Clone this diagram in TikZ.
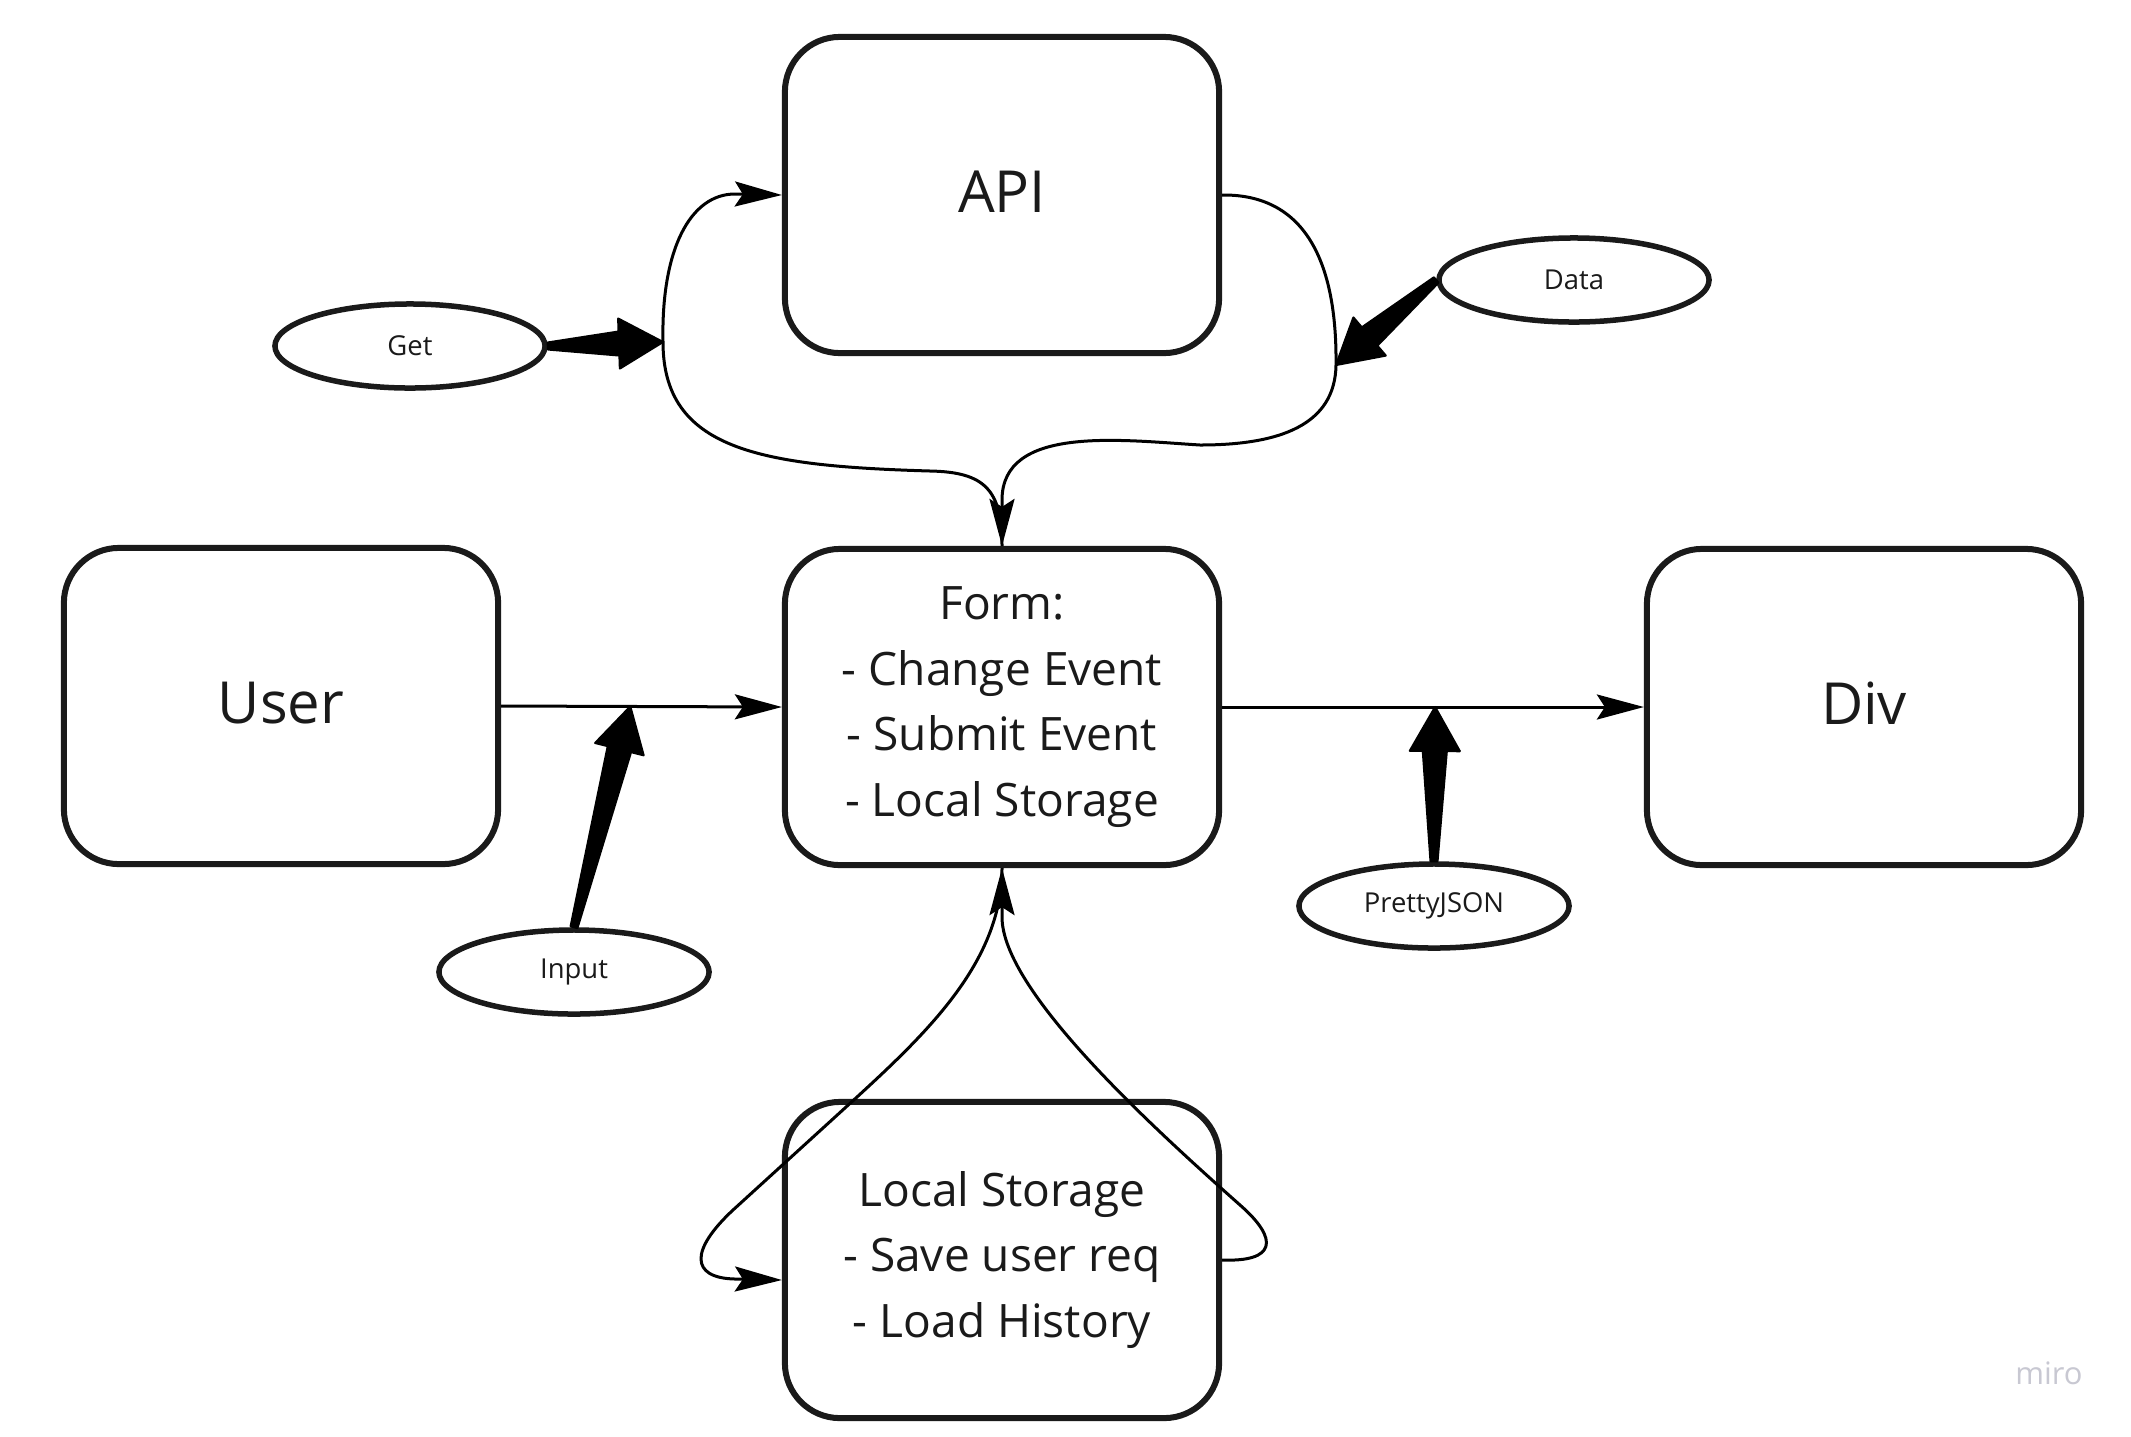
\documentclass[tikz,border=0pt]{standalone}
\usepackage{fontspec}
\setmainfont{Open Sans}
\usetikzlibrary{arrows.meta,shapes.geometric,calc}
\definecolor{ink}{HTML}{1A1A1A}
\definecolor{mirogray}{HTML}{C8C8D2}
\newcommand\lblbig{\fontsize{16.5pt}{20pt}\selectfont}
\newcommand\lblform{\fontsize{13.1pt}{18.64pt}\selectfont}
\newcommand\lblsmall{\fontsize{7.8pt}{9pt}\selectfont}
\newcommand\thickarr[2]{%
  \coordinate (ta) at (#1);
  \coordinate (tp) at (#2);
  \coordinate (tb) at ($(tp)!0.44cm!(ta)$);
  \filldraw[black,line join=round,line width=0.6pt]
    ($(ta)!0.035cm!90:(tp)$) -- ($(tb)!0.12cm!90:(tp)$) -- ($(tb)!0.25cm!90:(tp)$) -- (tp)
    -- ($(tb)!0.25cm!-90:(tp)$) -- ($(tb)!0.12cm!-90:(tp)$) -- ($(ta)!0.035cm!-90:(tp)$) -- cycle;
}
\tikzset{
  box/.style={draw=ink, line width=0.06cm, rounded corners=0.55cm, minimum width=4.34cm,
    minimum height=3.16cm, inner sep=0pt, align=center, text=ink},
  bigbox/.style={box, font=\lblbig, text height=0.414cm, text depth=0.07cm},
  bubble/.style={draw=ink, ellipse, line width=0.055cm, minimum width=2.70cm,
    minimum height=0.84cm, inner sep=0pt, font=\lblsmall, text=ink},
  flow/.style={draw=black, line width=0.03cm,
    -{Stealth[length=0.47cm,width=0.25cm,inset=0.08cm]}},
}
\begin{document}
\begin{tikzpicture}[x=0.01cm,y=-0.01cm]
\fill[white] (0,0) rectangle (2131,1436);
\useasboundingbox (0,0) rectangle (2131,1436);

% boxes
\node[bigbox] (api) at (1002,195) {API};
\node[bigbox] (user) at (281,706) {User};
\node[box, font=\lblform] (form) at (1002,707) {Form:\\- Change Event\\- Submit Event\\- Local Storage};
\node[bigbox] (div) at (1864,707) {Div};
\node[box, font=\lblform] (ls) at (1002,1260) {Local Storage\\- Save user req\\- Load History};

% ellipses
\node[bubble] (get) at (410,346) {Get};
\node[bubble] (data) at (1574,280) {Data};
\node[bubble] (input) at (574,972) {Input};
\node[bubble] (pretty) at (1434,906) {PrettyJSON};

% straight flows
\draw[flow] (user.east) -- (form.west);
\draw[flow] (form.east) -- (div.west);
\coordinate (inTip) at ($(user.east)!0.46!(form.west)$);
\coordinate (ptTip) at ($(form.east)!0.505!(div.west)$);

% top curves
\coordinate (getTip) at (663,342);
\coordinate (dataTip) at (1336,365);
\draw[flow] (form.north) .. controls (1002,490) and (985,472) .. (930,471)
  .. controls (760,466) and (663,450) .. (getTip)
  .. controls (661,250) and (690,194) .. (735,194) -- (api.west);
\draw[flow] (api.east) .. controls (1310,194) and (1337,270) .. (dataTip)
  .. controls (1335,425) and (1280,445) .. (1200,445)
  .. controls (1120,440) and (1002,425) .. (1002,500) -- (form.north);

% bottom curves
\coordinate (lsIn) at ($(ls.west)+(0,20)$);
\draw[flow] (form.south) .. controls (1002,960) and (930,1030) .. (857,1097)
  -- (733,1210) .. controls (690,1250) and (690,1278) .. (735,1279) -- (lsIn);
\draw[flow] (ls.east) .. controls (1275,1262) and (1280,1240) .. (1240,1205)
  .. controls (1150,1125) and (1002,990) .. (1002,917) -- (form.south);

% thick label arrows
\thickarr{get.east}{getTip}
\thickarr{data.west}{dataTip}
\thickarr{input.north}{inTip}
\thickarr{pretty.north}{ptTip}

% watermark
\node[text=mirogray, font=\fontsize{8.8pt}{10pt}\selectfont] (miro) at (2049,1373) {miro};
\end{tikzpicture}
\end{document}
